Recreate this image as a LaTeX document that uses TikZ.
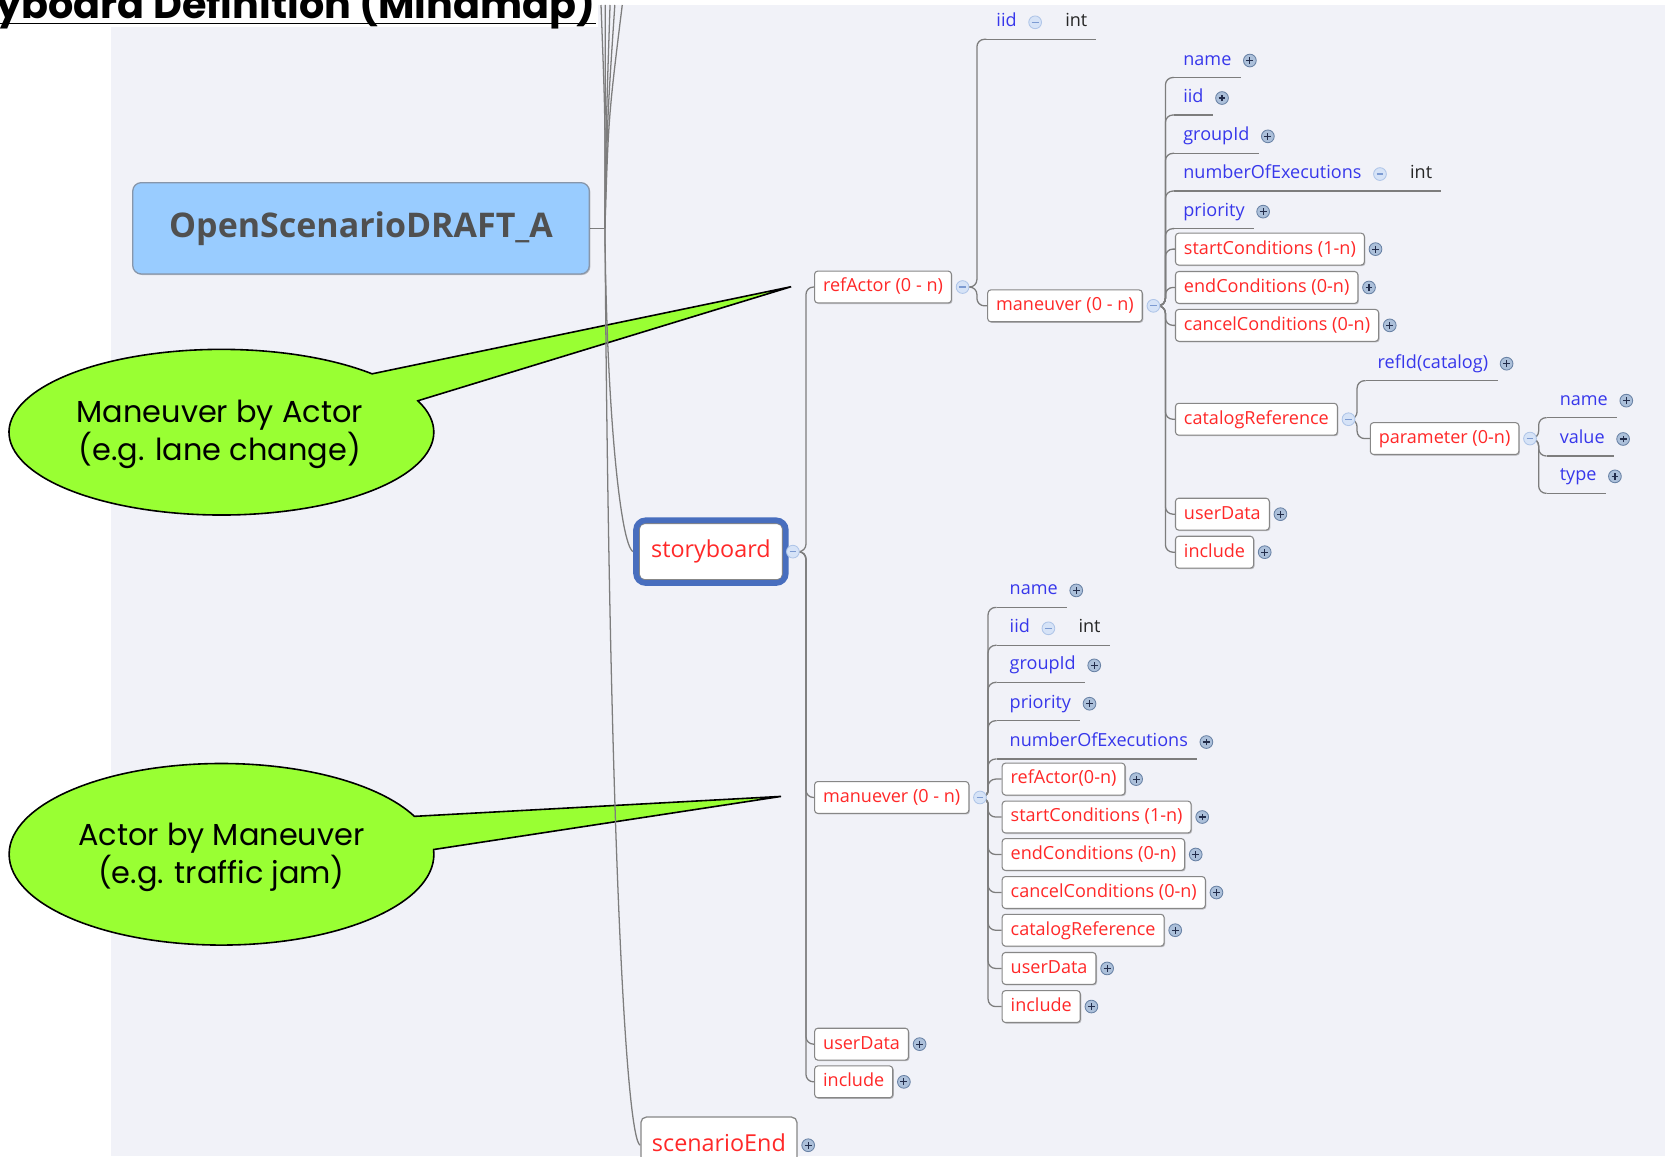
\documentclass[tikz,border=0pt]{standalone}
\usepackage{fontspec}
\newfontfamily\osans{Open Sans}
\newfontfamily\popp{Poppins}
\usetikzlibrary{calc,shadows,fit}
\definecolor{panel}{RGB}{241,242,248}
\definecolor{tred}{RGB}{255,40,40}
\definecolor{tblue}{RGB}{55,55,235}
\definecolor{lgray}{RGB}{125,125,125}
\definecolor{bgray}{RGB}{135,135,135}
\definecolor{rootfill}{RGB}{153,204,255}
\definecolor{rootdraw}{RGB}{135,150,170}
\definecolor{roottext}{RGB}{80,80,80}
\definecolor{selblue}{RGB}{72,110,190}
\definecolor{cgreen}{RGB}{153,255,51}
\definecolor{pinfill}{RGB}{172,192,218}
\definecolor{pindraw}{RGB}{105,130,165}
\definecolor{pinmark}{RGB}{35,45,75}
\definecolor{mpinfill}{RGB}{214,227,247}
\definecolor{mpindraw}{RGB}{175,197,232}
\definecolor{mpinmark}{RGB}{125,155,210}
\pgfdeclarelayer{back}
\pgfdeclarelayer{bg}
\pgfsetlayers{back,bg,main}
\newcommand\smallfont{\osans\fontsize{8.5}{10}\selectfont}
\newcommand\ttopic[6]{%
  \coordinate (#1-u) at (#2,#3);
  \node[btxt, anchor=mid west] (#1) at (#4,#3-16) {#5};
  \node[#6] (#1-p) at ($(#1.mid east)+(17,0)$) {};
  \draw[ul] (#1-u) -- ($(#1.mid east |- #1-u)+(8.5,0)$);
}
\newcommand\ttopicint[5]{%
  \coordinate (#1-u) at (#2,#3);
  \node[btxt, anchor=mid west] (#1) at (#4,#3-16) {#5};
  \node[minuspin] (#1-p) at ($(#1.mid east)+(17,0)$) {};
  \node[itxt, anchor=mid west] (#1-i) at ($(#1-p.center)+(28,0)$) {int};
  \draw[ul] (#1-u) -- ($(#1-i.mid east |- #1-u)+(8,0)$);
}
\newcommand\btopic[5]{%
  \node[rbox, anchor=west] (#1) at (#2,#3) {#4};
  \node[#5] (#1-p) at ($(#1.east)+(10,0)$) {};
}
\newcommand\branch[3]{\draw[conn, rounded corners=3.5pt] (#1.center) -- (#1.center -| #2) -- (#2 |- #3) -- (#3);}
\begin{document}
\begin{tikzpicture}[x=0.5pt,y=-0.5pt,
  conn/.style={draw=lgray, line width=0.6pt},
  ul/.style={draw=lgray, line width=0.6pt},
  btxt/.style={font=\smallfont, text=tblue, inner sep=0pt},
  itxt/.style={font=\smallfont, text=black!85, inner sep=0pt},
  shad/.style={drop shadow={shadow xshift=0.5pt, shadow yshift=-0.5pt, opacity=0.22, fill=black}},
  rbox/.style={font=\smallfont, text=tred, draw=bgray, fill=white, line width=0.5pt,
    rounded corners=1.5pt, inner xsep=4pt, inner ysep=0pt, minimum height=15pt,
    text height=6.4pt, text depth=1.8pt, shad},
  bigbox/.style={font=\osans\fontsize{11}{13}\selectfont, text=tred, draw=bgray, fill=white,
    line width=0.6pt, rounded corners=2.5pt, inner xsep=5.2pt, inner ysep=0pt,
    minimum height=26.5pt, text height=8.2pt, text depth=2.3pt},
  rootbox/.style={draw=rootdraw, fill=rootfill, rounded corners=4pt, minimum width=215pt,
    minimum height=43pt, font=\osans\bfseries\fontsize{16}{19}\selectfont, text=roottext,
    line width=0.6pt, shad},
  pluspin/.style={circle, inner sep=0pt, minimum size=6pt, fill=pinfill, draw=pindraw, line width=0.4pt,
    path picture={\draw[pinmark, line width=0.55pt]
      ([xshift=-1.6pt]path picture bounding box.center) -- ([xshift=1.6pt]path picture bounding box.center)
      ([yshift=-1.6pt]path picture bounding box.center) -- ([yshift=1.6pt]path picture bounding box.center);}},
  minuspin/.style={circle, inner sep=0pt, minimum size=6pt, fill=mpinfill, draw=mpindraw, line width=0.4pt,
    path picture={\draw[mpinmark, line width=0.55pt]
      ([xshift=-1.6pt]path picture bounding box.center) -- ([xshift=1.6pt]path picture bounding box.center);}},
  callout/.style={fill=cgreen, draw=black, line width=0.75pt},
  ctext/.style={font=\popp\fontsize{14.3}{18.2}\selectfont, align=center, inner sep=0pt}
]
\useasboundingbox (0,0) rectangle (1568,1089);
\clip (0,0) rectangle (1568,1089);
\begin{pgfonlayer}{back}
\fill[white] (0,0) rectangle (1568,1089);
\fill[panel] (105,4.7) rectangle (1568,1089);
\fill[white] (0,0) rectangle (563,25);
\end{pgfonlayer}

% title
\node[font=\popp\bfseries\fontsize{18.7}{22}\selectfont, anchor=base east, inner sep=0pt] (title) at (561,17.3) {Storyboard Definition (Mindmap)};
\draw[line width=0.7pt] ($(title.base west)+(0,4.8)$) -- ($(title.base east)+(0,4.8)$);

% root
\node[rootbox] (root) at (340,215) {OpenScenarioDRAFT\_A};
\coordinate (J) at (569.7,215);
\coordinate (up1) at (566,4.7);
\coordinate (up2) at (570,4.7);
\coordinate (up3) at (574.5,4.7);
\coordinate (up4) at (579,4.7);
\coordinate (up5) at (586,4.7);

% storyboard
\node[bigbox, minimum width=67.5pt] (sb) at (669.5,519.5) {storyboard};
\node[fit=(sb), inner sep=1.2pt, draw=selblue, line width=2.7pt, rounded corners=4.5pt] (sbsel) {};
\node[minuspin] (sb-p) at ($(sbsel.east)+(4,0)$) {};

% scenarioEnd
\node[bigbox, anchor=west] (se) at (603,1078.5) {scenarioEnd};
\node[pluspin] (se-p) at ($(se.east)+(10,0)$) {};

% trunks
\coordinate (tSB) at (759,0);
\coordinate (tRA) at (920,0);
\coordinate (tMA) at (1097.5,0);
\coordinate (tCR) at (1278,0);
\coordinate (tPA) at (1449,0);
\coordinate (tMN) at (930.5,0);

% storyboard children
\btopic{ra}{766.6}{270.3}{refActor (0 - n)}{minuspin}
\btopic{mn}{766.6}{751}{manuever (0 - n)}{minuspin}
\btopic{sbud}{766.7}{983.3}{userData}{pluspin}
\btopic{sbinc}{766.7}{1018.8}{include}{pluspin}

% refActor children
\ttopicint{raiid}{929}{37}{938}{iid}
\btopic{ma}{929.6}{288}{maneuver (0 - n)}{minuspin}

% maneuver children
\ttopic{mname}{1105.6}{73}{1114}{name}{pluspin}
\ttopic{miid}{1105.6}{108.3}{1114}{iid}{pluspin}
\ttopic{mgrp}{1105.6}{144.4}{1114}{groupId}{pluspin}
\ttopicint{mnoe}{1105.6}{179.9}{1114}{numberOfExecutions}
\ttopic{mpri}{1105.6}{215.3}{1114}{priority}{pluspin}
\btopic{msc}{1106.5}{234.6}{startConditions (1-n)}{pluspin}
\btopic{mec}{1106.5}{270.7}{endConditions (0-n)}{pluspin}
\btopic{mcc}{1106.5}{306.4}{cancelConditions (0-n)}{pluspin}
\btopic{mcr}{1106.5}{394.8}{catalogReference}{minuspin}
\btopic{mud}{1106.5}{484.2}{userData}{pluspin}
\btopic{minc}{1106.5}{520}{include}{pluspin}

% catalogReference children
\ttopic{crid}{1286}{358.5}{1297}{refId(catalog)}{pluspin}
\btopic{cpar}{1290}{413}{parameter (0-n)}{minuspin}

% parameter children
\ttopic{pname}{1456.6}{393.3}{1468.5}{name}{pluspin}
\ttopic{pval}{1456.6}{429.4}{1468.5}{value}{pluspin}
\ttopic{ptype}{1456.6}{464.6}{1468.5}{type}{pluspin}

% manuever (lower) children
\ttopic{nname}{938.6}{572}{950.5}{name}{pluspin}
\ttopicint{niid}{938.6}{607.7}{950.5}{iid}
\ttopic{ngrp}{938.6}{642.6}{950.5}{groupId}{pluspin}
\ttopic{npri}{938.6}{678.7}{950.5}{priority}{pluspin}
\ttopic{nnoe}{938.6}{714.8}{950.5}{numberOfExecutions}{pluspin}
\btopic{nra}{943.3}{733.7}{refActor(0-n)}{pluspin}
\btopic{nsc}{943.3}{769.4}{startConditions (1-n)}{pluspin}
\btopic{nec}{943.3}{804.7}{endConditions (0-n)}{pluspin}
\btopic{ncc}{943.3}{840.5}{cancelConditions (0-n)}{pluspin}
\btopic{ncr}{943.3}{876}{catalogReference}{pluspin}
\btopic{nud}{943.3}{912}{userData}{pluspin}
\btopic{ninc}{943.3}{947.9}{include}{pluspin}

\begin{pgfonlayer}{bg}
% callouts
\coordinate (c1) at (208.5,407);
\coordinate (tip1) at (745,270);
\filldraw[callout] ($(c1)+(44.8:100pt and 39pt)$) -- (tip1) -- ($(c1)+(22.3:100pt and 39pt)$)
  arc[start angle=22.3, end angle=-315.2, x radius=100pt, y radius=39pt] -- cycle;
\node[ctext] (co1) at (207,409) {Maneuver by Actor\\(e.g. lane change)};
\coordinate (c2) at (208.6,804.5);
\coordinate (tip2) at (735.5,750);
\filldraw[callout] ($(c2)+(24.7:100pt and 42.75pt)$) -- (tip2) -- ($(c2)+(3:100pt and 42.75pt)$)
  arc[start angle=3, end angle=-335.3, x radius=100pt, y radius=42.75pt] -- cycle;
\node[ctext] (co2) at (208.5,807.5) {Actor by Maneuver\\(e.g. traffic jam)};

% root connectors
\draw[conn] (root.east) -- (J);
\draw[conn] (J) .. controls (570,110) .. (up1);
\draw[conn] (J) .. controls (570,110) .. (up2);
\draw[conn] (J) .. controls (571,110) .. (up3);
\draw[conn] (J) .. controls (572,110) .. (up4);
\draw[conn] (J) .. controls (573,110) .. (up5);
\draw[conn] (J) .. controls (571,380) and (584,514) .. (sbsel.west);
\draw[conn] (J) .. controls (574,800) and (590,1075) .. (se.west);

% storyboard branches
\branch{sb-p}{tSB}{ra.west}
\branch{sb-p}{tSB}{mn.west}
\branch{sb-p}{tSB}{sbud.west}
\branch{sb-p}{tSB}{sbinc.west}
% refActor branches
\branch{ra-p}{tRA}{raiid-u}
\branch{ra-p}{tRA}{ma.west}
% maneuver branches
\branch{ma-p}{tMA}{mname-u}
\branch{ma-p}{tMA}{miid-u}
\branch{ma-p}{tMA}{mgrp-u}
\branch{ma-p}{tMA}{mnoe-u}
\branch{ma-p}{tMA}{mpri-u}
\branch{ma-p}{tMA}{msc.west}
\branch{ma-p}{tMA}{mec.west}
\branch{ma-p}{tMA}{mcc.west}
\branch{ma-p}{tMA}{mcr.west}
\branch{ma-p}{tMA}{mud.west}
\branch{ma-p}{tMA}{minc.west}
% catalogReference branches
\branch{mcr-p}{tCR}{crid-u}
\branch{mcr-p}{tCR}{cpar.west}
% parameter branches
\branch{cpar-p}{tPA}{pname-u}
\branch{cpar-p}{tPA}{pval-u}
\branch{cpar-p}{tPA}{ptype-u}
% manuever (lower) branches
\branch{mn-p}{tMN}{nname-u}
\branch{mn-p}{tMN}{niid-u}
\branch{mn-p}{tMN}{ngrp-u}
\branch{mn-p}{tMN}{npri-u}
\branch{mn-p}{tMN}{nnoe-u}
\branch{mn-p}{tMN}{nra.west}
\branch{mn-p}{tMN}{nsc.west}
\branch{mn-p}{tMN}{nec.west}
\branch{mn-p}{tMN}{ncc.west}
\branch{mn-p}{tMN}{ncr.west}
\branch{mn-p}{tMN}{nud.west}
\branch{mn-p}{tMN}{ninc.west}
\end{pgfonlayer}
\end{tikzpicture}
\end{document}
